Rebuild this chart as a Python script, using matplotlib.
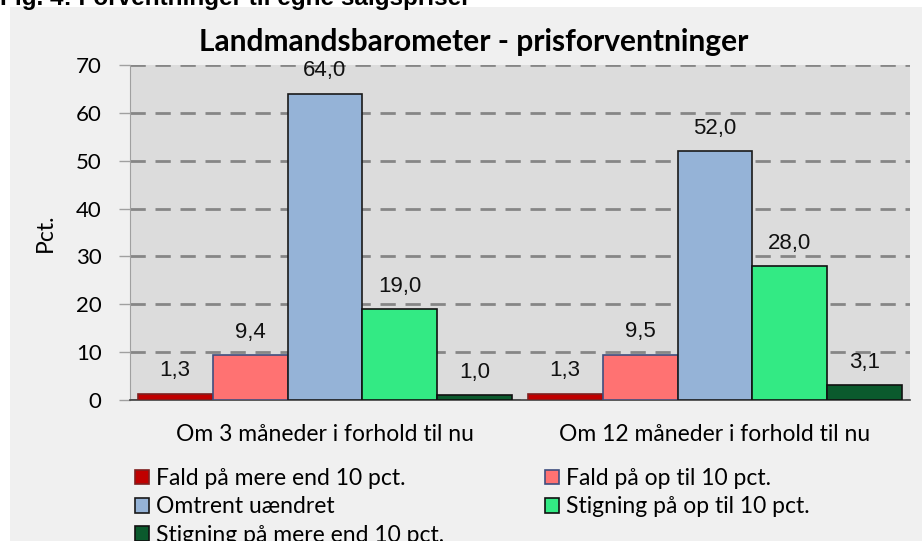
import numpy as np
import matplotlib
matplotlib.use("Agg")
import matplotlib.pyplot as plt
from matplotlib.patches import Rectangle, Patch

# data
categories = ["Om 3 måneder i forhold til nu", "Om 12 måneder i forhold til nu"]
series = ["Fald på mere end 10 pct.", "Fald på op til 10 pct.", "Omtrent uændret",
          "Stigning på op til 10 pct.", "Stigning på mere end 10 pct."]
values = [
    [1.3, 1.3],
    [9.4, 9.5],
    [64.0, 52.0],
    [19.0, 28.0],
    [1.0, 3.1],
]
yticks = [0, 10, 20, 30, 40, 50, 60, 70]

colors = ["#C00000", "#FF7272", "#95B3D7", "#33EA84", "#0B5A2D"]
edges = ["#7F2020", "#3F4F7F", "#1A1A1A", "#111111", "#111111"]

W, H = 922, 541
fig = plt.figure(figsize=(W / 100, H / 100), dpi=100)
fig.patch.set_facecolor("white")
fig.patches.append(Rectangle((10 / W, 0), 1, (H - 7) / H, transform=fig.transFigure,
                             facecolor="#F0F0F0", edgecolor="none", zorder=-10))

# figure caption, mostly cut off at the top like in the source
fig.text(0.0, 1 - 5 / H, "Fig. 4: Forventninger til egne salgspriser",
         fontsize=17.5, fontweight="bold", family="Liberation Sans", va="baseline", ha="left")

ax = fig.add_axes([130 / W, (H - 400) / H, 780 / W, 335 / H])
ax.set_facecolor("#DCDCDC")

x = np.arange(len(categories))
bw = 0.1923
for i, s in enumerate(series):
    pos = x + (i - 2) * bw
    bars = ax.bar(pos, values[i], width=bw, color=colors[i], edgecolor=edges[i],
                  linewidth=1.2, label=s, zorder=3)
    for b, v in zip(bars, values[i]):
        ax.annotate(f"{v:.1f}".replace(".", ","), (b.get_x() + b.get_width() / 2, v),
                    xytext=(0, 16.5), textcoords="offset points", ha="center", va="center",
                    fontsize=16, family="Liberation Sans", color="#111111", zorder=4)

ax.set_xlim(-0.5, 1.5)
ax.set_ylim(0, 70)
ax.set_yticks(yticks)
ax.set_yticklabels([str(t) for t in yticks], fontsize=16, family="Lato")
ax.yaxis.grid(True, linestyle=(0, (5.5, 3.5)), color="#868686", linewidth=2, zorder=0)
ax.set_axisbelow(True)
ax.tick_params(axis="y", length=8, width=1, color="#A0A0A0", pad=12.5)
ax.set_xticks(x)
ax.set_xticklabels(categories, fontsize=16.5, family="Lato")
ax.tick_params(axis="x", length=0, pad=17)
ax.set_ylabel("Pct.", fontsize=16.5, family="Lato", labelpad=14)

for sp in ["top", "right"]:
    ax.spines[sp].set_visible(False)
ax.spines["left"].set_color("#A0A0A0")
ax.spines["bottom"].set_color("#404040")
ax.spines["bottom"].set_linewidth(1.2)

fig.text(474 / W, 1 - 42 / H, "Landmandsbarometer - prisforventninger", fontsize=21.5,
         fontweight="bold", family="Lato", ha="center", va="center")

handles = [Patch(facecolor=colors[i], edgecolor=edges[i], linewidth=1.2) for i in range(5)]
leg_kw = dict(loc="upper left", frameon=False, prop={"family": "Lato", "size": 16.5},
              handlelength=0.6, handleheight=0.6, handletextpad=0.3, labelspacing=0.32,
              borderpad=0, borderaxespad=0)
fig.legend([handles[0], handles[2], handles[4]], [series[0], series[2], series[4]],
           bbox_to_anchor=(135 / W, 1 - 468 / H), **leg_kw)
fig.legend([handles[1], handles[3]], [series[1], series[3]],
           bbox_to_anchor=(545 / W, 1 - 468 / H), **leg_kw)

fig.savefig("out.png", dpi=100, facecolor=fig.get_facecolor())
